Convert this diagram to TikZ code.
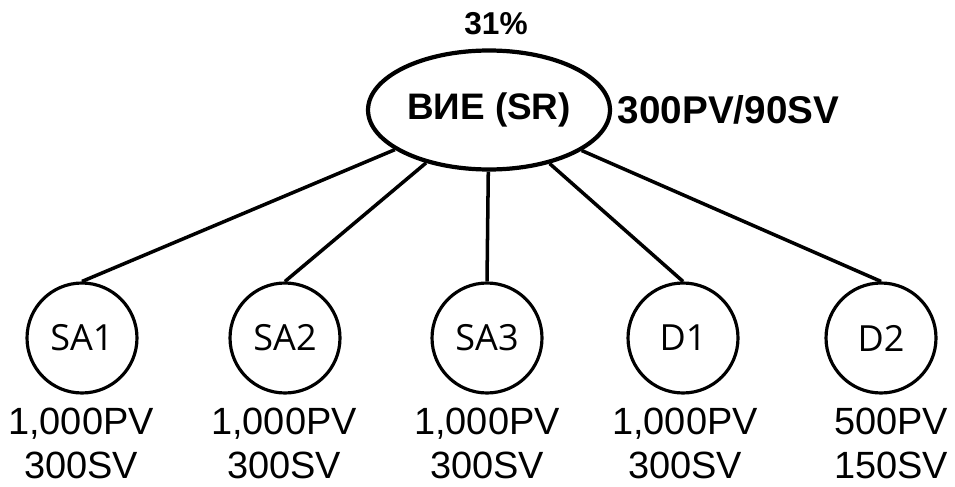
\documentclass[tikz,border=0pt]{standalone}
\usepackage{fontspec}
\setmainfont{Liberation Sans}
\newfontfamily\circfont{Open Sans}
\usetikzlibrary{shapes.geometric,positioning}
\tikzset{every picture/.style={line width=2pt}}
\tikzstyle{root}=[ellipse,draw,line width=2.4pt,minimum width=4.84cm,minimum height=2.38cm,inner sep=0pt,font=\fontsize{21}{24}\selectfont\bfseries]
\tikzstyle{circ}=[circle,draw,line width=1.8pt,minimum size=2.2cm,inner sep=0pt,font=\circfont\fontsize{20.5}{22}\selectfont]
\tikzstyle{val}=[align=center,inner sep=0pt,font=\fontsize{21.6}{25}\selectfont]
\begin{document}
\begin{tikzpicture}
  [x=0.02cm,y=-0.02cm]
\useasboundingbox (0,0) rectangle (955,486);
\node[root] (top) at (489,110) {ВИЕ (SR)};
\node[font=\fontsize{18}{20}\selectfont\bfseries] (pct) at (496,24) {31\%};
\node[anchor=west,inner sep=0pt,font=\fontsize{22}{25}\selectfont\bfseries] (topval) at (616,110) {300PV/90SV};
  \node[circ] (sa1) at (82,338) {SA1};
  \node[circ] (sa2) at (285,338) {SA2};
  \node[circ] (sa3) at (487,338) {SA3};
  \node[circ] (d1) at (683,338) {D1};
  \node[circ] (d2) at (881,338) {D2};
\node[val] (v1) at (81,443) {1,000PV\\300SV};
\node[val] (v2) at (284,443) {1,000PV\\300SV};
\node[val] (v3) at (487,443) {1,000PV\\300SV};
\node[val] (v4) at (685,443) {1,000PV\\300SV};
\node[val] (v5) at (891,443) {500PV\\150SV};
\path
(top) edge (sa1.north)
(top) edge (sa2.north)
(top) edge (sa3.north)
(top) edge (d1.north)
(top) edge (d2.north);
\end{tikzpicture}
\end{document}
